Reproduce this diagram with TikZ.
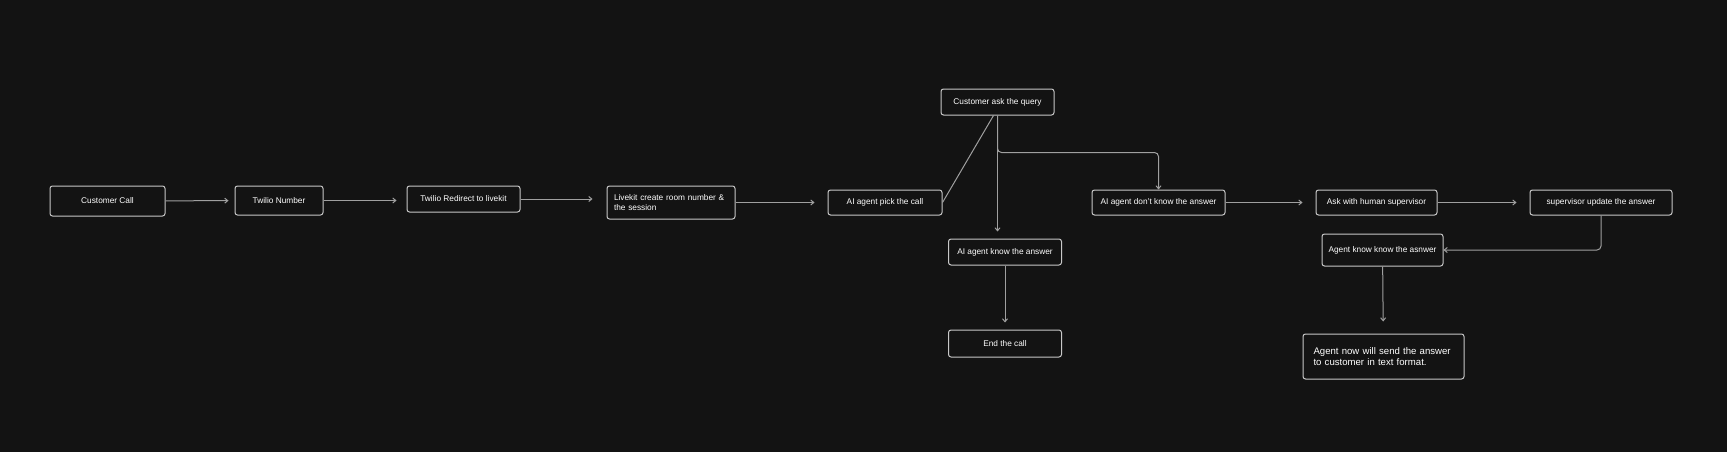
\documentclass[tikz,border=0pt]{standalone}
\usepackage{fontspec}
\setmainfont{Liberation Sans}
\usetikzlibrary{arrows.meta}
\definecolor{bgdark}{RGB}{19,19,19}
\definecolor{boxline}{RGB}{200,200,200}
\definecolor{wire}{RGB}{160,160,160}

\begin{document}
\begin{tikzpicture}[x=1pt,y=-1pt,
    box/.style={draw=boxline, line width=1pt, rounded corners=2.5pt, text=white,
        font=\fontsize{8.3}{10}\selectfont, inner sep=2pt},
    link/.style={draw=wire, line width=1pt, -{Straight Barb[length=3pt,width=5pt]}}]
    \fill[bgdark] (0,0) rectangle (1727,452);
    \useasboundingbox (0,0) rectangle (1727,452);

    \node[box, minimum width=115, minimum height=30] (box1) at (107.5,201) {Customer Call};
    \node[box, minimum width=88, minimum height=29] (box2) at (279,200.5) {Twilio Number};
    \node[box, minimum width=113, minimum height=26] (box3) at (463.5,199) {Twilio Redirect to livekit};
    \node[box, minimum width=128, minimum height=33, align=left, text width=114] (box4) at (671,202.5)
        {Livekit create room number \&\\the session};
    \node[box, minimum width=114, minimum height=25] (box5) at (885,202.5) {AI agent pick the call};
    \node[box, minimum width=113, minimum height=26] (box6) at (997.5,102) {Customer ask the query};
    \node[box, minimum width=113, minimum height=26] (box7) at (1005,252) {AI agent know the answer};
    \node[box, minimum width=113, minimum height=27] (box8) at (1005,343.5) {End the call};
    \node[box, minimum width=133, minimum height=25] (box9) at (1158.5,202.5) {AI agent don't know the answer};
    \node[box, minimum width=121, minimum height=25] (box10) at (1376.5,202.5) {Ask with human supervisor};
    \node[box, minimum width=142, minimum height=25] (box11) at (1601,202.5) {supervisor update the answer};
    \node[box, minimum width=121, minimum height=32] (box12) at (1382.5,250) {Agent know know the asnwer};
    \node[box, minimum width=161, minimum height=45, align=left, text width=140,
        font=\fontsize{9.6}{11.5}\selectfont] (box13) at (1383.5,356.5)
        {Agent now will send the answer\\to customer in text format.};

    \draw[link, shorten >=6pt] (box1) -- (box2);
    \draw[link, shorten >=10pt] (box2.east) -- (box3.west |- box2.east);
    \draw[link, shorten >=14pt] (box3) -- (box3 -| box4.west);
    \draw[link, shorten >=13pt] (box4) -- (box4 -| box5.west);
    \draw[draw=wire, line width=1pt] (box5.east) -- ([xshift=-4pt]box6.south);
    \draw[link, shorten >=7pt] (box6.south) -- (box6.south |- box7.north);
    \draw[link, rounded corners=4pt] (box6.south) -- ++(0,37) -| (box9.north);
    \draw[link, shorten >=7pt] (box7) -- (box8);
    \draw[link, shorten >=13pt] (box9) -- (box9 -| box10.west);
    \draw[link, shorten >=13pt] (box10) -- (box10 -| box11.west);
    \draw[link, rounded corners=4pt] (box11.south) |- (box12.east);
    \draw[link, shorten >=12pt] (box12) -- (box13);
\end{tikzpicture}
\end{document}
